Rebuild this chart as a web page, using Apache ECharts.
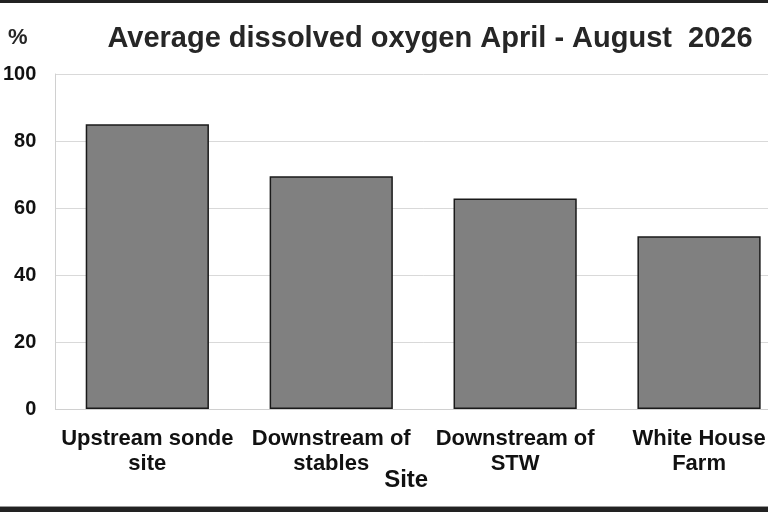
<!DOCTYPE html>
<html>
<head>
<meta charset="utf-8">
<script src="https://cdn.jsdelivr.net/npm/echarts@6/dist/echarts.min.js"></script>
<style>
html,body{margin:0;padding:0;background:#fff;overflow:hidden;}
#wrap{width:768px;height:512px;overflow:hidden;position:relative;}
#c{width:800px;height:512px;position:absolute;left:0;top:0;}
</style>
</head>
<body>
<div id="wrap"><div id="c"></div></div>
<script>
const categories = ['Upstream sonde\nsite', 'Downstream of\nstables', 'Downstream of\nSTW', 'White House\nFarm'];
const oxygen = [85, 69.5, 62.8, 51.6];
const yTicks = { min: 0, max: 100, interval: 20 };

const chart = echarts.init(document.getElementById('c'), null, { renderer: 'canvas' });
const txt = '#262626';
chart.setOption({
  animation: false,
  backgroundColor: '#fff',
  title: {
    text: 'Average dissolved oxygen April - August  2026',
    left: 425, top: 19, textAlign: 'center',
    textStyle: { fontFamily: 'Liberation Sans', fontWeight: 'bold', fontSize: 29, color: txt }
  },
  grid: { left: 55, right: 9, top: 74, bottom: 103, containLabel: false },
  xAxis: {
    type: 'category',
    data: categories,
    name: 'Site',
    nameLocation: 'middle',
    nameGap: 59,
    nameMoveOverlap: false,
    nameTextStyle: { fontFamily: 'Liberation Sans', fontWeight: 'bold', fontSize: 24, color: '#111', padding: [0, 34, 0, 0] },
    axisLine: { lineStyle: { color: '#d0d0d0', width: 1 } },
    axisTick: { show: false },
    axisLabel: { fontFamily: 'Liberation Sans', fontWeight: 'bold', fontSize: 22, color: '#111', lineHeight: 25, margin: 17, interval: 0 }
  },
  yAxis: {
    type: 'value',
    min: yTicks.min, max: yTicks.max, interval: yTicks.interval,
    name: '%',
    nameLocation: 'end',
    nameGap: 25,
    nameTextStyle: { fontFamily: 'Liberation Sans', fontWeight: 'bold', fontSize: 22, color: txt, align: 'center', padding: [0, 0, 0, -75] },
    axisLine: { show: true, lineStyle: { color: '#d0d0d0', width: 1 } },
    axisTick: { show: false },
    splitLine: { lineStyle: { color: '#d9d9d9', width: 1 } },
    axisLabel: { fontFamily: 'Liberation Sans', fontWeight: 'bold', fontSize: 20, color: '#111', margin: 19 }
  },
  series: [{
    type: 'bar',
    data: oxygen,
    barCategoryGap: '33%',
    itemStyle: { color: '#808080', borderColor: '#1a1a1a', borderWidth: 1.5 }
  }],
  graphic: [
    { type: 'rect', shape: { x: 0, y: 0, width: 800, height: 3 }, style: { fill: '#222' } },
    { type: 'rect', shape: { x: 0, y: 506, width: 800, height: 1 }, style: { fill: '#999' } },
    { type: 'rect', shape: { x: 0, y: 507, width: 800, height: 5 }, style: { fill: '#222' } }
  ]
});
</script>
</body>
</html>
